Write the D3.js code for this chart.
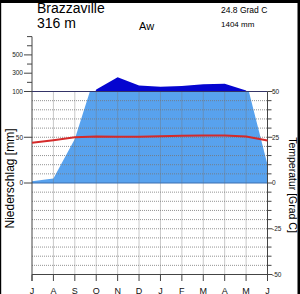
<!DOCTYPE html>
<html><head><meta charset="utf-8">
<script src="https://cdn.jsdelivr.net/npm/d3@7"></script>
<style>body{margin:0;background:#fff} svg{display:block;font-family:"Liberation Sans",Arial,sans-serif}</style>
</head><body><svg id="c" width="300" height="294"></svg>
<script>
const station = "Brazzaville";
const altitude = "316 m";
const climateClass = "Aw";
const annualTemp = "24.8 Grad C";
const annualPrecip = "1404 mm";
const months = ["J","A","S","O","N","D","J","F","M","A","M","J"];
const precipitation = [2,5,48,122,255,165,152,160,179,184,112,20];
const temperature = [22.0,23.4,25.0,25.4,25.3,25.3,25.5,25.8,26.0,25.9,25.4,23.2];
const precipTicksLow = [0,50,100];
const precipTicksHigh = [100,200,300,400,500,600,700];
const precipLabelsHigh = [100,300,500];
const gridLevels = d3.range(-90,100,10);
const tempTicks = d3.range(-50,51,5);
const tempLabels = [-50,-25,0,25,50];

const svg = d3.select("#c");
const L=32, R=267.5, T=91.5, B=274.5;
const idx = months.map((m,i)=>i);
const x = d3.scaleLinear().domain([0, months.length-1]).range([L,R]);
const yP = d3.scaleLinear().domain([-100,100]).range([B,T]);
const yHigh = d3.scaleLinear().domain([100,700]).range([T,36.6]);
const yT = d3.scaleLinear().domain([-50,50]).range([B,T]);
const yPiece = v => v<=100 ? yP(v) : yHigh(v);

svg.append("rect").attr("width",300).attr("height",294).attr("fill","#fff");
const defs = svg.append("defs");
defs.append("clipPath").attr("id","clipLow").append("rect").attr("x",L).attr("y",T).attr("width",R-L).attr("height",B-T);
defs.append("clipPath").attr("id","clipHigh").append("rect").attr("x",L).attr("y",0).attr("width",R-L).attr("height",T);

// light blue precipitation (normal scale)
svg.append("path").datum(idx)
  .attr("clip-path","url(#clipLow)")
  .attr("fill","#58a2ee")
  .attr("d", d3.area().x(i=>x(i)).y0(yP(0)).y1(i=>yP(precipitation[i])));

// grid
const g = svg.append("g").attr("stroke","#777").attr("stroke-width",0.8).attr("stroke-dasharray","1,1");
g.selectAll("line.h").data(gridLevels.filter(v=>v!==0)).join("line")
  .attr("x1",L).attr("x2",R).attr("y1",d=>yP(d)).attr("y2",d=>yP(d));
g.selectAll("line.v").data(idx.slice(1,-1)).join("line")
  .attr("x1",i=>x(i)).attr("x2",i=>x(i)).attr("y1",T).attr("y2",B);

// frame lines
const ax = svg.append("g").attr("stroke","#444").attr("stroke-width",1).attr("fill","none");
ax.append("line").attr("x1",L).attr("x2",R).attr("y1",yP(100)).attr("y2",yP(100));
ax.append("line").attr("x1",L).attr("x2",R).attr("y1",yP(0)).attr("y2",yP(0)).attr("stroke","#3a6fb0");
ax.append("line").attr("x1",L).attr("x2",R).attr("y1",B).attr("y2",B);
ax.append("line").attr("x1",L).attr("x2",L).attr("y1",yHigh(700)).attr("y2",B+6.5);
ax.append("line").attr("x1",R).attr("x2",R).attr("y1",T).attr("y2",B+6.5);
// month ticks
ax.selectAll("line.m").data(idx).join("line")
  .attr("x1",i=>x(i)).attr("x2",i=>x(i)).attr("y1",B).attr("y2",B+6.5);

// dark blue precipitation (compressed above 100)
svg.append("path").datum(idx)
  .attr("clip-path","url(#clipHigh)")
  .attr("fill","#0505d0")
  .attr("d", d3.area().x(i=>x(i)).y0(T).y1(i=>yPiece(precipitation[i])));

// temperature
svg.append("path").datum(idx)
  .attr("fill","none").attr("stroke","#d42a2a").attr("stroke-width",2)
  .attr("d", d3.line().x(i=>x(i)).y(i=>yT(temperature[i])));

// left axis ticks
const lt = svg.append("g").attr("stroke","#444");
lt.selectAll("line.a").data(precipTicksLow).join("line")
  .attr("x1",24).attr("x2",L).attr("y1",d=>yP(d)).attr("y2",d=>yP(d));
lt.selectAll("line.b").data(precipTicksHigh).join("line")
  .attr("x1",d=>precipLabelsHigh.includes(d)?24:27).attr("x2",L).attr("y1",d=>yHigh(d)).attr("y2",d=>yHigh(d));
const lab = svg.append("g").attr("font-size","6.5px").attr("fill","#222");
lab.selectAll("text.a").data(precipTicksLow.filter(d=>d<100)).join("text")
  .attr("x",23).attr("y",d=>yP(d)).attr("dy","0.35em").attr("text-anchor","end").text(d=>d);
lab.selectAll("text.b").data(precipLabelsHigh).join("text")
  .attr("x",23).attr("y",d=>yHigh(d)).attr("dy","0.35em").attr("text-anchor","end").text(d=>d);

// right axis ticks
const rt = svg.append("g").attr("stroke","#444");
rt.selectAll("line").data(tempTicks).join("line")
  .attr("x1",R).attr("x2",d=>tempLabels.includes(d)?R+5:R+4).attr("y1",d=>yT(d)).attr("y2",d=>yT(d));
lab.selectAll("text.c").data(tempLabels).join("text")
  .attr("x",272).attr("y",d=>yT(d)).attr("dy","0.35em").text(d=>d);

// month labels
svg.append("g").attr("font-size","9px").attr("fill","#111")
  .selectAll("text").data(idx).join("text")
  .attr("x",i=>x(i)).attr("y",293.5).attr("text-anchor","middle").text(i=>months[i]);

// titles
svg.append("text").attr("x",37).attr("y",13).attr("font-size","14px").text(station);
svg.append("text").attr("x",37).attr("y",28).attr("font-size","14px").text(altitude);
svg.append("text").attr("x",139).attr("y",30).attr("font-size","11px").text(climateClass);
svg.append("text").attr("x",221).attr("y",13).attr("font-size","8.5px").text(annualTemp);
svg.append("text").attr("x",221).attr("y",27).attr("font-size","8px").text(annualPrecip);

svg.append("text").attr("transform","translate(13.5,178.5) rotate(-90)").attr("text-anchor","middle")
  .attr("font-size","12px").text("Niederschlag [mm]");
svg.append("text").attr("transform","translate(289,185) rotate(90)").attr("text-anchor","middle")
  .attr("font-size","10.5px").text("Temperatur [Grad C]");

// outer frame
svg.append("rect").attr("x",0).attr("y",0).attr("width",300).attr("height",3).attr("fill","#000");
svg.append("rect").attr("x",0).attr("y",0).attr("width",1.2).attr("height",294).attr("fill","#000");
svg.append("rect").attr("x",297.5).attr("y",0).attr("width",2.5).attr("height",294).attr("fill","#000");
</script></body></html>
